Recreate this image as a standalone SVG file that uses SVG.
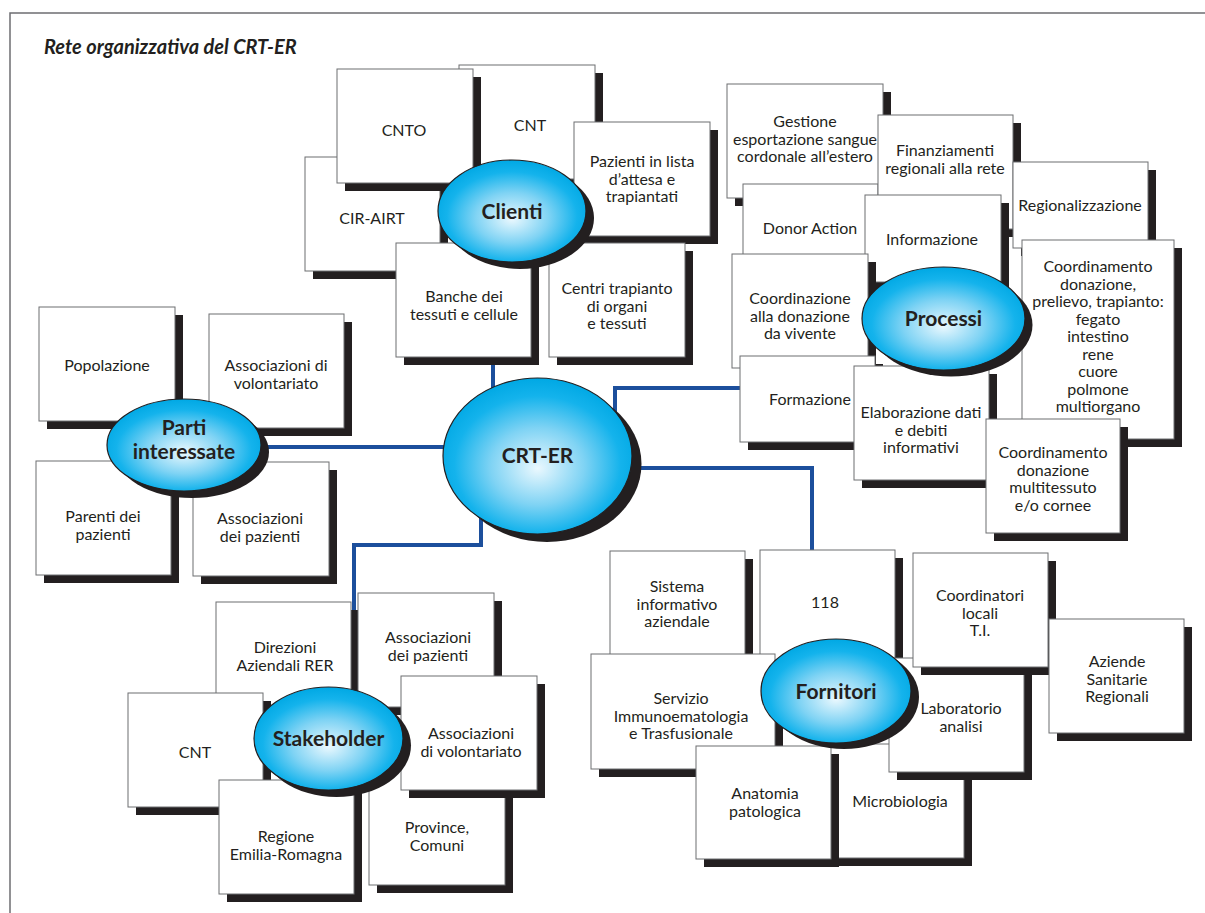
<svg xmlns="http://www.w3.org/2000/svg" width="1205" height="913" viewBox="0 0 1205 913">
<style>
.b{fill:#fff;stroke:#6d6e71;stroke-width:1}
.sh{fill:#231f20}
.t{font-family:Lato,"Open Sans","Liberation Sans",sans-serif;font-size:16px;fill:#231f20;text-anchor:middle}
.l{font-family:Lato,"Open Sans","Liberation Sans",sans-serif;font-size:21px;font-weight:bold;fill:#231f20;text-anchor:middle}
.e{fill:url(#g);stroke:#231f20;stroke-width:1.2}
.conn{stroke:#1c4f9c;stroke-width:4;fill:none}
.title{font-family:Lato,"Open Sans","Liberation Sans",sans-serif;font-size:20px;font-weight:bold;font-style:italic;fill:#231f20}
</style>
<defs>
<radialGradient id="g" cx="50%" cy="55%" r="55%" fx="50%" fy="58%">
<stop offset="0" stop-color="#eaf8fe"/>
<stop offset="0.45" stop-color="#7fd3f4"/>
<stop offset="0.8" stop-color="#14b3ec"/>
<stop offset="1" stop-color="#00a8e4"/>
</radialGradient>
</defs>
<rect width="1205" height="913" fill="#fff"/>
<path d="M10,913 V13 H1205" fill="none" stroke="#6d6e71" stroke-width="1.5"/>
<text class="title" x="44" y="54">Rete organizzativa del CRT-ER</text>

<g id="connectors">
<path class="conn" d="M493,250 V400"/>
<path class="conn" d="M250,447 H450"/>
<path class="conn" d="M615,415 V388 H748"/>
<path class="conn" d="M625,468 H812 V560"/>
<path class="conn" d="M481,515 V545 H354 V612"/>
</g>

<!-- Clienti cluster -->
<g id="n-cnt1"><rect class="sh" x="467" y="73" width="136" height="114"/><rect class="b" x="459" y="65" width="136" height="114"/><text class="t" x="530" y="131">CNT</text></g>
<g id="n-cirairt"><rect class="sh" x="313" y="165" width="135" height="114"/><rect class="b" x="305" y="157" width="135" height="114"/><text class="t" x="372" y="224">CIR-AIRT</text></g>
<g id="n-cnto"><rect class="sh" x="345" y="77" width="136" height="114"/><rect class="b" x="337" y="69" width="136" height="114"/><text class="t" x="404" y="136">CNTO</text></g>
<g id="n-pazienti"><rect class="sh" x="582" y="130" width="136" height="114"/><rect class="b" x="574" y="122" width="136" height="114"/><text class="t" x="642" y="167">Pazienti in lista<tspan x="642" dy="17.5">d’attesa e</tspan><tspan x="642" dy="17.5">trapiantati</tspan></text></g>
<g id="n-centri"><rect class="sh" x="557" y="251" width="136" height="114"/><rect class="b" x="549" y="243" width="136" height="114"/><text class="t" x="617" y="294">Centri trapianto<tspan x="617" dy="17.5">di organi</tspan><tspan x="617" dy="17.5">e tessuti</tspan></text></g>
<g id="n-banche"><rect class="sh" x="404" y="251" width="135" height="114"/><rect class="b" x="396" y="243" width="135" height="114"/><text class="t" x="464" y="302">Banche dei<tspan x="464" dy="17.5">tessuti e cellule</tspan></text></g>
<g id="n-clienti"><ellipse class="sh" cx="520" cy="218" rx="74" ry="51"/><ellipse class="e" cx="512" cy="211" rx="74" ry="51"/><text class="l" x="512" y="219">Clienti</text></g>

<!-- Processi cluster -->
<g id="n-gestione"><rect class="sh" x="735" y="92" width="156" height="114"/><rect class="b" x="727" y="84" width="156" height="114"/><text class="t" x="805" y="127">Gestione<tspan x="805" dy="17.5">esportazione sangue</tspan><tspan x="805" dy="17.5">cordonale all’estero</tspan></text></g>
<g id="n-donor"><rect class="sh" x="751" y="192" width="135" height="114"/><rect class="b" x="743" y="184" width="135" height="114"/><text class="t" x="810" y="234">Donor Action</text></g>
<g id="n-finanziamenti"><rect class="sh" x="886" y="123" width="135" height="114"/><rect class="b" x="878" y="115" width="135" height="114"/><text class="t" x="945" y="156">Finanziamenti<tspan x="945" dy="17.5">regionali alla rete</tspan></text></g>
<g id="n-regionalizzazione"><rect class="sh" x="1021" y="170" width="135" height="86"/><rect class="b" x="1013" y="162" width="135" height="86"/><text class="t" x="1080" y="211">Regionalizzazione</text></g>
<g id="n-informazione"><rect class="sh" x="873" y="203" width="136" height="87"/><rect class="b" x="865" y="195" width="136" height="87"/><text class="t" x="932" y="245">Informazione</text></g>
<g id="n-vivente"><rect class="sh" x="740" y="262" width="136" height="114"/><rect class="b" x="732" y="254" width="136" height="114"/><text class="t" x="800" y="304">Coordinazione<tspan x="800" dy="17.5">alla donazione</tspan><tspan x="800" dy="17.5">da vivente</tspan></text></g>
<g id="n-coordinamento"><rect class="sh" x="1030" y="248" width="152" height="199"/><rect class="b" x="1022" y="240" width="152" height="199"/><text class="t" x="1098" y="272">Coordinamento<tspan x="1098" dy="17.5">donazione,</tspan><tspan x="1098" dy="17.5">prelievo, trapianto:</tspan><tspan x="1098" dy="17.5">fegato</tspan><tspan x="1098" dy="17.5">intestino</tspan><tspan x="1098" dy="17.5">rene</tspan><tspan x="1098" dy="17.5">cuore</tspan><tspan x="1098" dy="17.5">polmone</tspan><tspan x="1098" dy="17.5">multiorgano</tspan></text></g>
<g id="n-formazione"><rect class="sh" x="748" y="364" width="135" height="86"/><rect class="b" x="740" y="356" width="135" height="86"/><text class="t" x="810" y="405">Formazione</text></g>
<g id="n-elaborazione"><rect class="sh" x="862" y="374" width="135" height="114"/><rect class="b" x="854" y="366" width="135" height="114"/><text class="t" x="921" y="418">Elaborazione dati<tspan x="921" dy="17.5">e debiti</tspan><tspan x="921" dy="17.5">informativi</tspan></text></g>
<g id="n-processi"><ellipse class="sh" cx="951" cy="325" rx="81.5" ry="51.5"/><ellipse class="e" cx="943.5" cy="318.5" rx="81.5" ry="51.5"/><text class="l" x="943.5" y="326">Processi</text></g>
<g id="n-multitessuto"><rect class="sh" x="994" y="427" width="134" height="114"/><rect class="b" x="986" y="419" width="134" height="114"/><text class="t" x="1053" y="458">Coordinamento<tspan x="1053" dy="17.5">donazione</tspan><tspan x="1053" dy="17.5">multitessuto</tspan><tspan x="1053" dy="17.5">e/o cornee</tspan></text></g>

<!-- Parti interessate cluster -->
<g id="n-popolazione"><rect class="sh" x="47" y="315" width="136" height="114"/><rect class="b" x="39" y="307" width="136" height="114"/><text class="t" x="107" y="371">Popolazione</text></g>
<g id="n-volontariato1"><rect class="sh" x="217" y="322" width="135" height="114"/><rect class="b" x="209" y="314" width="135" height="114"/><text class="t" x="276" y="371">Associazioni di<tspan x="276" dy="17.5">volontariato</tspan></text></g>
<g id="n-parenti"><rect class="sh" x="44" y="469" width="135" height="114"/><rect class="b" x="36" y="461" width="135" height="114"/><text class="t" x="103" y="522">Parenti dei<tspan x="103" dy="17.5">pazienti</tspan></text></g>
<g id="n-associazioni1"><rect class="sh" x="201" y="470" width="136" height="114"/><rect class="b" x="193" y="462" width="136" height="114"/><text class="t" x="260" y="524">Associazioni<tspan x="260" dy="17.5">dei pazienti</tspan></text></g>
<g id="n-parti"><ellipse class="sh" cx="192" cy="452" rx="77" ry="46"/><ellipse class="e" cx="184" cy="445" rx="77" ry="46"/><text class="l" x="184" y="435">Parti<tspan x="184" dy="24">interessate</tspan></text></g>

<!-- CRT-ER -->
<g id="n-crter"><ellipse class="sh" cx="547" cy="464" rx="94.5" ry="78"/><ellipse class="e" cx="537.5" cy="456" rx="94.5" ry="78"/><text class="l" x="537.5" y="463">CRT-ER</text></g>

<!-- Stakeholder cluster -->
<g id="n-direzioni"><rect class="sh" x="224" y="610" width="135" height="114"/><rect class="b" x="216" y="602" width="135" height="114"/><text class="t" x="285" y="653">Direzioni<tspan x="285" dy="17.5">Aziendali RER</tspan></text></g>
<g id="n-associazioni2"><rect class="sh" x="366" y="601" width="136" height="114"/><rect class="b" x="358" y="593" width="136" height="114"/><text class="t" x="428" y="643">Associazioni<tspan x="428" dy="17.5">dei pazienti</tspan></text></g>
<g id="n-cnt2"><rect class="sh" x="136" y="701" width="135" height="114"/><rect class="b" x="128" y="693" width="135" height="114"/><text class="t" x="195" y="758">CNT</text></g>
<g id="n-province"><rect class="sh" x="377" y="779" width="136" height="114"/><rect class="b" x="369" y="771" width="136" height="114"/><text class="t" x="437" y="833">Province,<tspan x="437" dy="17.5">Comuni</tspan></text></g>
<g id="n-volontariato2"><rect class="sh" x="409" y="684" width="136" height="114"/><rect class="b" x="401" y="676" width="136" height="114"/><text class="t" x="471" y="739">Associazioni<tspan x="471" dy="17.5">di volontariato</tspan></text></g>
<g id="n-regione"><rect class="sh" x="227" y="788" width="135" height="114"/><rect class="b" x="219" y="780" width="135" height="114"/><text class="t" x="286" y="842">Regione<tspan x="286" dy="17.5">Emilia-Romagna</tspan></text></g>
<g id="n-stakeholder"><ellipse class="sh" cx="336.5" cy="745.5" rx="74.5" ry="51.5"/><ellipse class="e" cx="328.5" cy="738.5" rx="74.5" ry="51.5"/><text class="l" x="328.5" y="746">Stakeholder</text></g>

<!-- Fornitori cluster -->
<g id="n-sistema"><rect class="sh" x="618" y="559" width="135" height="114"/><rect class="b" x="610" y="551" width="135" height="114"/><text class="t" x="677" y="592">Sistema<tspan x="677" dy="17.5">informativo</tspan><tspan x="677" dy="17.5">aziendale</tspan></text></g>
<g id="n-118"><rect class="sh" x="768" y="558" width="135" height="114"/><rect class="b" x="760" y="550" width="135" height="114"/><text class="t" x="825" y="608">118</text></g>
<g id="n-microbiologia"><rect class="sh" x="837" y="752" width="135" height="114"/><rect class="b" x="829" y="744" width="135" height="114"/><text class="t" x="900" y="807">Microbiologia</text></g>
<g id="n-laboratorio"><rect class="sh" x="897" y="666" width="135" height="114"/><rect class="b" x="889" y="658" width="135" height="114"/><text class="t" x="961" y="714">Laboratorio<tspan x="961" dy="17.5">analisi</tspan></text></g>
<g id="n-coordinatori"><rect class="sh" x="921" y="561" width="135" height="114"/><rect class="b" x="913" y="553" width="135" height="114"/><text class="t" x="980" y="601">Coordinatori<tspan x="980" dy="17.5">locali</tspan><tspan x="980" dy="17.5">T.I.</tspan></text></g>
<g id="n-aziende"><rect class="sh" x="1057" y="627" width="135" height="114"/><rect class="b" x="1049" y="619" width="135" height="114"/><text class="t" x="1117" y="667">Aziende<tspan x="1117" dy="17.5">Sanitarie</tspan><tspan x="1117" dy="17.5">Regionali</tspan></text></g>
<g id="n-servizio"><rect class="sh" x="599" y="662" width="184" height="115"/><rect class="b" x="591" y="654" width="184" height="115"/><text class="t" x="681" y="704">Servizio<tspan x="681" dy="17.5">Immunoematologia</tspan><tspan x="681" dy="17.5">e Trasfusionale</tspan></text></g>
<g id="n-anatomia"><rect class="sh" x="704" y="754" width="135" height="113"/><rect class="b" x="696" y="746" width="135" height="113"/><text class="t" x="765" y="799">Anatomia<tspan x="765" dy="17.5">patologica</tspan></text></g>
<g id="n-fornitori"><ellipse class="sh" cx="844" cy="697" rx="75" ry="52"/><ellipse class="e" cx="836" cy="691" rx="75" ry="52"/><text class="l" x="836" y="699">Fornitori</text></g>
</svg>
